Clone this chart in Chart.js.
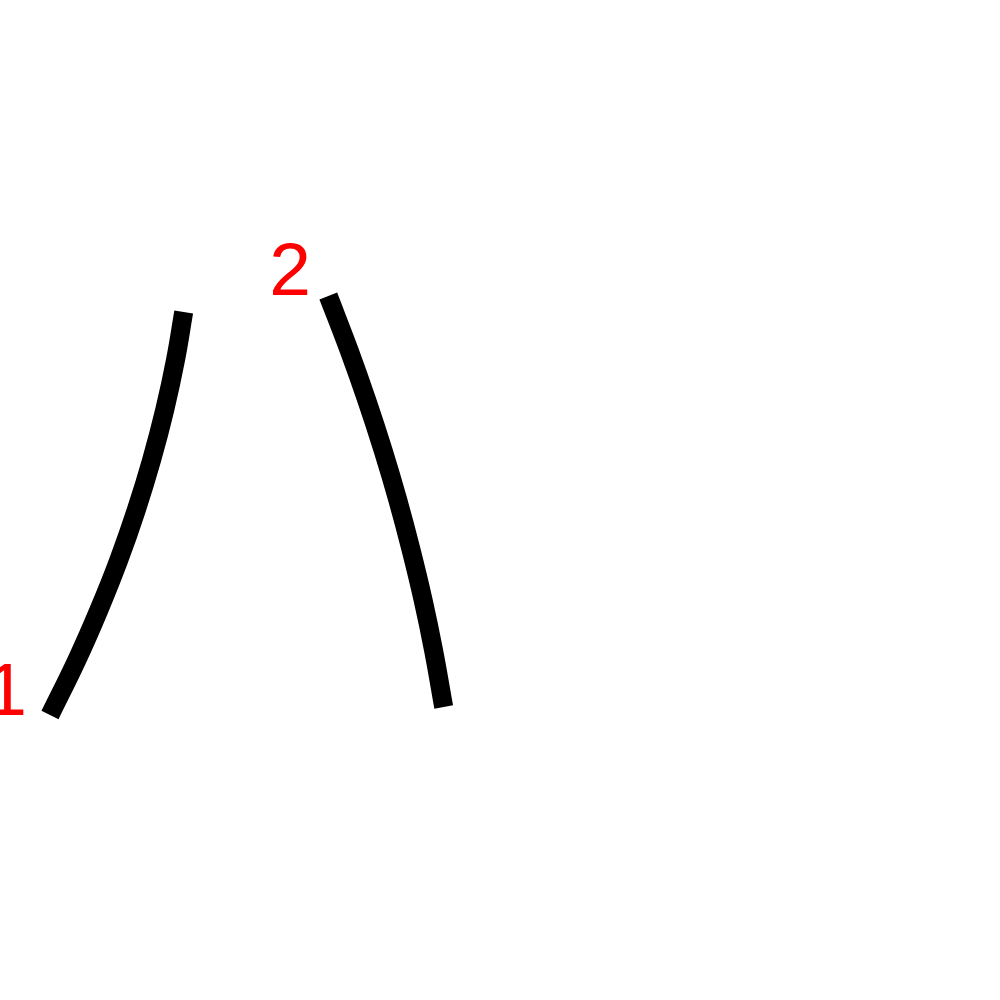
<!DOCTYPE html>
<html>
<head>
<meta charset="utf-8">
<script src="https://cdn.jsdelivr.net/npm/chart.js@4"></script>
<style>
  html, body { margin: 0; padding: 0; background: #ffffff; }
  #wrap { width: 1000px; height: 1000px; position: relative; }
</style>
</head>
<body>
<div id="wrap"><canvas id="c"></canvas></div>
<script>
// Stroke 1 (left-falling stroke of 八)
const stroke1X = [183.7, 175.5, 164.7, 151.6, 136.3, 118.8, 98.9, 76.9, 50.0];
const stroke1Y = [312, 360, 410, 460, 510, 560, 610, 660, 715];
// Stroke 2 (right-falling stroke)
const stroke2X = [328.3, 349.0, 366.7, 383.0, 397.8, 411.1, 423.1, 433.5, 443.7];
const stroke2Y = [296, 350, 400, 450, 500, 550, 600, 650, 707];
// Stroke order numbers
const labelText = ["1", "2"];
const labelX = [6, 290];
const labelY = [715, 295];

const toPts = (xs, ys) => xs.map((x, i) => ({ x: x, y: ys[i] }));

const labelPlugin = {
  id: 'strokeLabels',
  afterDatasetsDraw(chart) {
    const ctx = chart.ctx;
    const sx = chart.scales.x, sy = chart.scales.y;
    ctx.save();
    ctx.fillStyle = '#ff0000';
    ctx.font = '75px "Liberation Sans", Arial, Helvetica, sans-serif';
    ctx.textAlign = 'center';
    ctx.textBaseline = 'alphabetic';
    labelText.forEach((t, i) => {
      ctx.fillText(t, sx.getPixelForValue(labelX[i]), sy.getPixelForValue(labelY[i]));
    });
    ctx.restore();
  }
};

new Chart(document.getElementById('c'), {
  type: 'scatter',
  data: {
    datasets: [
      { data: toPts(stroke1X, stroke1Y), showLine: true, borderColor: '#000000', borderWidth: 19,
        borderCapStyle: 'butt', pointRadius: 0, tension: 0.4, fill: false },
      { data: toPts(stroke2X, stroke2Y), showLine: true, borderColor: '#000000', borderWidth: 19,
        borderCapStyle: 'butt', pointRadius: 0, tension: 0.4, fill: false }
    ]
  },
  options: {
    responsive: true,
    maintainAspectRatio: false,
    devicePixelRatio: 1,
    animation: false,
    layout: { padding: 0 },
    plugins: { legend: { display: false }, tooltip: { enabled: false } },
    scales: {
      x: { type: 'linear', min: 0, max: 1000, display: false },
      y: { type: 'linear', min: 0, max: 1000, reverse: true, display: false }
    },
    elements: { line: { capBezierPoints: false } }
  },
  plugins: [labelPlugin]
});
</script>
</body>
</html>
